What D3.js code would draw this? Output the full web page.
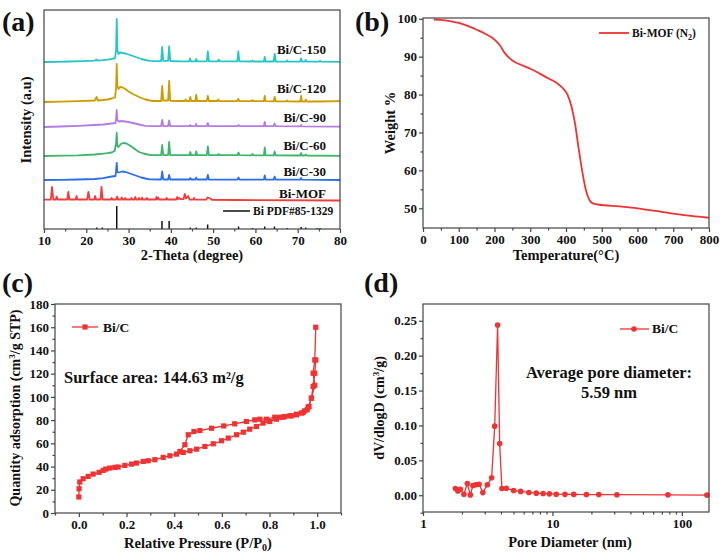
<!DOCTYPE html>
<html lang="en">
<head>
<meta charset="utf-8">
<title>Bi/C characterisation</title>
<script src="https://d3js.org/d3.v7.min.js"></script>
<style>
body { margin: 0; background: #fff; }
svg text { font-family: "Liberation Serif", "Times New Roman", serif; font-weight: bold; fill: #111; }
.frame { fill: none; stroke: #444; stroke-width: 1.2; }
.axis path { display: none; }
.axis line { stroke: #444; stroke-width: 1.2; }
.axis text { font-size: 13px; font-family: "Liberation Serif", serif; font-weight: bold; fill: #111; }
</style>
</head>
<body>
<script>
// ---------- (a) XRD patterns, intensity above each pattern's own baseline ----------
var xrdNames = ["Bi/C-150", "Bi/C-120", "Bi/C-90", "Bi/C-60", "Bi/C-30", "Bi-MOF"];
var xrdOffsets = [167, 127, 102, 73, 49, 29];

var xrd150 = [[10,0],[13,0.2],[16,0.5],[19,0.8],[22,1.3],[22.4,2.5],[22.6,1.3],[24,1.8],[25,2.3],[26,3],[26.8,3.8],[27.05,12],[27.2,43],[27.35,12],[27.6,8],[28,9.5],[28.6,9],[29.3,8.5],[30,7.5],[31,6],[32,4.5],[33,3],[34,2],[35,1.2],[36,0.8],[37.7,0.8],[37.95,15],[38.2,1.2],[39.35,1.2],[39.6,15.5],[39.85,1],[42,0.7],[44.35,0.6],[44.55,3.5],[44.75,0.6],[45.8,0.6],[46,3],[46.2,0.6],[48.5,0.6],[48.75,10.5],[49,0.6],[51.1,0.6],[51.3,2.5],[51.5,0.6],[55.7,0.6],[55.95,10.5],[56.2,0.6],[59.1,0.5],[59.3,1.5],[59.5,0.5],[62,0.5],[62.2,5],[62.4,0.5],[64.3,0.5],[64.55,8],[64.8,0.5],[67.3,0.4],[67.5,1.5],[67.7,0.4],[70.6,0.4],[70.8,3.5],[71,0.4],[71.7,0.4],[71.9,2],[72.1,0.4],[75.1,0.3],[75.3,1.2],[75.5,0.3],[80,0.2]];
var xrd120 = [[10,0],[14,0.3],[18,0.8],[22,1.5],[22.45,5],[22.7,1.5],[24,2],[25,2.5],[26,3.5],[26.8,4.5],[27.05,14],[27.2,38],[27.35,16],[27.6,13],[28,15],[28.6,14.5],[29.2,13],[30,10.5],[31,8],[32,6],[33,4],[34,2.5],[35,1.5],[36,1],[37.7,1],[37.95,16],[38.2,1.5],[39.35,1.5],[39.6,21],[39.85,1.2],[42,1],[43.3,1],[43.5,2.5],[43.7,1],[44.4,1],[44.6,5],[44.8,1],[45.8,1],[46,7],[46.2,1],[48.5,1],[48.75,6],[49,1],[51,1],[51.2,2.5],[51.4,1],[55.7,0.8],[55.95,3],[56.2,0.8],[59.1,0.8],[59.3,1.8],[59.5,0.8],[62,0.8],[62.2,6],[62.4,0.8],[64.3,0.6],[64.55,5],[64.8,0.6],[67.3,0.6],[67.5,1.5],[67.7,0.6],[70.6,0.5],[70.8,6],[71,0.5],[71.7,0.5],[71.9,2.5],[72.1,0.5],[75,0.5],[80,0.8]];
var xrd90 = [[10,0],[14,0.5],[18,1.2],[22,2],[24,2.5],[26,3.5],[26.9,4],[27.05,8],[27.2,17],[27.35,7],[27.7,5.5],[28.4,6],[29.2,5.5],[30,5],[31,4],[32,3],[33,2],[34,1.2],[35,0.8],[37.7,0.8],[37.95,7],[38.2,0.8],[39.35,0.8],[39.6,6.5],[39.85,0.8],[44.4,0.8],[44.6,2],[44.8,0.8],[45.8,0.8],[46,3],[46.2,0.8],[48.5,0.8],[48.75,4],[49,0.8],[55.75,0.8],[56,2],[56.25,0.8],[62,0.8],[62.2,5],[62.4,0.8],[64.3,0.8],[64.55,3.5],[64.8,0.8],[70.6,0.6],[70.8,2],[71,0.6],[80,0.3]];
var xrd60 = [[10,0],[14,0.3],[18,0.7],[22,1.5],[24,2.3],[25,2.8],[26,3.5],[26.7,5],[27.05,13],[27.2,23],[27.35,10],[27.6,9],[28.2,12],[28.8,13],[29.5,12.5],[30.3,10.5],[31,8.5],[31.8,6],[32.5,4],[33.5,2.5],[34.5,1.5],[35.5,0.8],[37.7,0.8],[37.95,11],[38.2,0.8],[39.35,0.8],[39.6,14],[39.85,0.8],[42,0.8],[44.4,0.8],[44.6,4],[44.8,0.8],[45.8,0.8],[46,4.5],[46.2,0.8],[48.5,0.8],[48.75,9.5],[49,0.8],[51.1,0.8],[51.3,2],[51.5,0.8],[55.75,0.8],[56,3.5],[56.25,0.8],[59.1,0.6],[59.3,2],[59.5,0.6],[62,0.6],[62.2,8.5],[62.4,0.6],[64.3,0.6],[64.55,4.5],[64.8,0.6],[70.6,0.5],[70.8,3],[71,0.5],[71.7,0.5],[71.9,1.5],[72.1,0.5],[80,0.2]];
var xrd30 = [[10,0],[14,0.2],[18,0.5],[22,1],[24,1.8],[26,3.5],[26.9,4],[27.05,9],[27.2,17],[27.35,8],[27.7,7.5],[28.5,8.5],[29.3,8],[30,7],[31,5.5],[32,4],[33,2.5],[34,1.5],[35,0.7],[37.7,0.5],[37.95,8.5],[38.2,0.5],[39.35,0.5],[39.6,5],[39.85,0.5],[44.4,0.5],[44.6,2],[44.8,0.5],[45.8,0.5],[46,2.5],[46.2,0.5],[48.5,0.5],[48.75,5],[49,0.5],[55.75,0.4],[56,2.5],[56.25,0.4],[62,0.4],[62.2,4.5],[62.4,0.4],[64.3,0.4],[64.55,3.5],[64.8,0.4],[70.6,0.3],[70.8,2],[71,0.3],[80,0]];
var xrdMof = [[10,0.3],[11.6,0.3],[11.9,13],[12.2,0.5],[12.8,0.5],[13,3.5],[13.2,0.5],[15.5,0.5],[15.75,8],[16,0.5],[17.5,0.5],[17.7,4],[17.9,0.5],[20.2,0.5],[20.5,8],[20.8,0.5],[21.9,0.5],[22.1,4],[22.3,0.5],[23.35,0.5],[23.6,13],[23.85,0.5],[25.8,0.5],[26,2],[26.2,0.5],[27.1,0.5],[27.3,3.5],[27.5,0.5],[28.2,0.5],[28.4,2.5],[28.6,0.5],[29,0.5],[29.2,2],[29.4,0.5],[30.5,0.5],[30.7,2],[30.9,0.5],[31.4,0.5],[31.6,3],[31.8,0.5],[32.3,0.5],[32.5,2],[32.7,0.5],[33,0.5],[33.2,2.5],[33.4,0.5],[34.1,0.5],[34.3,2],[34.5,0.5],[36.4,0.5],[36.6,3],[36.8,0.5],[37,2.5],[37.2,0.5],[38.8,0.5],[39,2],[39.2,0.5],[41.3,0.5],[41.5,3],[41.7,0.8],[42,2],[42.3,0.8],[43,1],[43.3,6],[43.6,1.5],[44.1,4],[44.4,0.5],[45.3,0.3],[45.5,2],[45.7,0.3],[48.3,0.3],[48.7,2.5],[49.3,1.5],[49.7,0.2],[55,0],[80,-0.5]];

var refPos = [22.5, 23.8, 27.2, 37.9, 39.6, 44.6, 46.0, 48.7, 56.0, 59.3, 62.2, 64.5, 67.5, 70.8, 71.9, 74.6, 75.3];
var refInt = [1.5, 1.5, 23, 8, 8, 1.5, 1.5, 4.5, 2.5, 1, 2.5, 2.5, 1, 2, 1.5, 1, 1];

var aTicks = [10, 20, 30, 40, 50, 60, 70, 80];
var aMinor = [15, 25, 35, 45, 55, 65, 75];

// ---------- (b) TGA ----------
var tgaTemp = [30, 50, 75, 100, 125, 150, 175, 200, 215, 230, 250, 275, 300, 325, 350, 375, 390, 405, 415, 425, 435, 445, 455, 465, 475, 490, 550, 600, 650, 700, 750, 800];
var tgaWeight = [99.8, 99.7, 99.4, 98.9, 98.1, 97.1, 96.0, 94.5, 93.0, 90.8, 89.0, 87.8, 86.8, 85.6, 84.3, 83.0, 81.8, 79.8, 77.0, 72.5, 66.0, 60.0, 55.0, 52.3, 51.3, 51.0, 50.5, 50.0, 49.3, 48.6, 48.0, 47.5];
var bTicksX = [0, 100, 200, 300, 400, 500, 600, 700, 800];
var bMinorX = [50, 150, 250, 350, 450, 550, 650, 750];
var bTicksY = [50, 60, 70, 80, 90, 100];
var bMinorY = [55, 65, 75, 85, 95];

// ---------- (c) N2 isotherm ----------
var adsP = [0.000, 0.001, 0.004, 0.018, 0.039, 0.06, 0.085, 0.102, 0.113, 0.13, 0.151, 0.165, 0.193, 0.221, 0.242, 0.27, 0.291, 0.319, 0.354, 0.382, 0.41, 0.438, 0.466, 0.494, 0.529, 0.564, 0.599, 0.627, 0.662, 0.69, 0.717, 0.745, 0.773, 0.801, 0.829, 0.857, 0.885, 0.913, 0.941, 0.958, 0.966, 0.976, 0.983, 0.99, 0.994];
var adsQ = [13.8, 20.9, 26.7, 29.5, 31.5, 33.5, 35.0, 36.7, 37.8, 38.7, 39.3, 39.6, 41.0, 42.1, 43.0, 44.4, 45.0, 45.9, 47.9, 49.3, 50.7, 52.2, 53.6, 55.0, 57.3, 59.6, 62.2, 64.5, 67.4, 69.6, 72.2, 74.5, 77.4, 78.8, 80.8, 82.5, 83.7, 85.1, 86.6, 88.9, 91.7, 98.9, 108.9, 120.4, 131.8];
var desP = [0.994, 0.99, 0.983, 0.99, 0.976, 0.962, 0.948, 0.934, 0.913, 0.892, 0.864, 0.843, 0.822, 0.787, 0.759, 0.738, 0.703, 0.654, 0.608, 0.557, 0.508, 0.483, 0.459, 0.445, 0.424];
var desQ = [160.0, 131.8, 120.4, 110.0, 98.9, 91.1, 88.0, 86.0, 84.5, 83.7, 83.1, 82.5, 82.5, 80.8, 80.8, 80.2, 78.8, 76.8, 75.0, 73.0, 71.0, 70.2, 67.4, 58.8, 53.0];
var cTicksX = [0, 0.2, 0.4, 0.6, 0.8, 1.0];
var cMinorX = [-0.1, 0.1, 0.3, 0.5, 0.7, 0.9, 1.1];
var cTicksY = [0, 20, 40, 60, 80, 100, 120, 140, 160, 180];
var cMinorY = [10, 30, 50, 70, 90, 110, 130, 150, 170];

// ---------- (d) pore size distribution ----------
var poreD = [1.78, 1.86, 1.94, 2.07, 2.20, 2.32, 2.43, 2.55, 2.71, 2.90, 3.14, 3.39, 3.58, 3.77, 3.91, 4.07, 4.40, 5.01, 5.68, 6.58, 7.5, 8.47, 9.48, 10.7, 12.5, 14.6, 18.3, 22.8, 31.5, 78, 156];
var poreV = [0.0095, 0.006, 0.0086, 0.0014, 0.0167, 0.0005, 0.014, 0.015, 0.0157, 0.0038, 0.015, 0.025, 0.099, 0.244, 0.074, 0.0095, 0.010, 0.0068, 0.0055, 0.004, 0.003, 0.0025, 0.002, 0.0015, 0.0013, 0.0012, 0.001, 0.001, 0.0008, 0.0006, 0.0002];
var dTicksX = [1, 10, 100];
var dMinorX = [2, 3, 4, 5, 6, 7, 8, 9, 20, 30, 40, 50, 60, 70, 80, 90];
var dTicksY = [0, 0.05, 0.10, 0.15, 0.20, 0.25];
var dMinorY = [-0.025, 0.025, 0.075, 0.125, 0.175, 0.225];

var red = "#f03232";

var svg = d3.select("body").append("svg")
    .attr("width", 724)
    .attr("height", 560);

function frame(x0, y0, x1, y1) {
    svg.append("rect").attr("class", "frame")
        .attr("x", x0).attr("y", y0)
        .attr("width", x1 - x0).attr("height", y1 - y0);
}

function xAxis(scale, y, ticks, minor, fmt) {
    svg.append("g").attr("class", "axis").attr("transform", "translate(0," + y + ")")
        .call(d3.axisBottom(scale).tickValues(ticks).tickFormat(fmt).tickSize(4).tickPadding(3).tickSizeOuter(0));
    svg.append("g").attr("class", "axis").attr("transform", "translate(0," + y + ")")
        .call(d3.axisBottom(scale).tickValues(minor).tickFormat("").tickSize(2.5).tickSizeOuter(0));
}

function yAxis(scale, x, ticks, minor, fmt) {
    svg.append("g").attr("class", "axis").attr("transform", "translate(" + x + ",0)")
        .call(d3.axisLeft(scale).tickValues(ticks).tickFormat(fmt).tickSize(4).tickPadding(2).tickSizeOuter(0));
    svg.append("g").attr("class", "axis").attr("transform", "translate(" + x + ",0)")
        .call(d3.axisLeft(scale).tickValues(minor).tickFormat("").tickSize(2.5).tickSizeOuter(0));
}

function label(txt, x, y, size, anchor, rot) {
    var t = svg.append("text").attr("font-size", size).attr("text-anchor", anchor || "start");
    if (rot) t.attr("transform", "translate(" + x + "," + y + ") rotate(-90)");
    else t.attr("x", x).attr("y", y);
    t.text(txt);
    return t;
}

// panel letters
label("(a)", 2, 31, 28);
label("(b)", 355, 31, 28);
label("(c)", 2, 292, 28);
label("(d)", 364, 292, 28);

// ================= (a) =================
var xa = d3.scaleLinear().domain([10, 80]).range([44, 340]);
var ya = d3.scaleLinear().domain([0, 219]).range([229, 10]);
var xrdSeries = [xrd150, xrd120, xrd90, xrd60, xrd30, xrdMof];
var xrdColors = ["#25c6c6", "#cc9c00", "#b37be3", "#3db56b", "#2f6fe6", "#f03c3c"];

xrdSeries.forEach(function(s, i) {
    var line = d3.line()
        .x(function(d) { return xa(d[0]); })
        .y(function(d) { return ya(d[1] + xrdOffsets[i]); });
    svg.append("path").datum(s)
        .attr("d", line)
        .attr("fill", "none")
        .attr("stroke", xrdColors[i])
        .attr("stroke-width", 1.8)
        .attr("stroke-linejoin", "round");
});

svg.selectAll(".refbar").data(refPos).enter().append("line")
    .attr("class", "refbar")
    .attr("x1", function(d) { return xa(d); })
    .attr("x2", function(d) { return xa(d); })
    .attr("y1", ya(0))
    .attr("y2", function(d, i) { return ya(refInt[i]); })
    .attr("stroke", "#111")
    .attr("stroke-width", 1.5);

var nameY = [54, 93, 122, 150, 176, 198];
xrdNames.forEach(function(n, i) {
    label(n, 326, nameY[i], 13, "end");
});
svg.append("line").attr("x1", 223).attr("x2", 250).attr("y1", 211).attr("y2", 211)
    .attr("stroke", "#111").attr("stroke-width", 1.5);
label("Bi PDF#85-1329", 253, 215, 11.5);

frame(44, 10, 340, 229);
xAxis(xa, 229, aTicks, aMinor, d3.format("d"));
label("2-Theta (degree)", 192, 260, 14.5, "middle");
label("Intensity (a.u)", 31, 120, 14.5, "middle", true);

// ================= (b) =================
var xb = d3.scaleLinear().domain([0, 800]).range([423, 709]);
var yb = d3.scaleLinear().domain([44.8, 100.2]).range([228, 18]);
var tga = tgaTemp.map(function(t, i) { return [t, tgaWeight[i]]; });
svg.append("path").datum(tga)
    .attr("d", d3.line().curve(d3.curveMonotoneX)
        .x(function(d) { return xb(d[0]); })
        .y(function(d) { return yb(d[1]); }))
    .attr("fill", "none").attr("stroke", red).attr("stroke-width", 1.8);

frame(423, 18, 709, 228);
xAxis(xb, 228, bTicksX, bMinorX, d3.format("d"));
yAxis(yb, 423, bTicksY, bMinorY, d3.format("d"));
label("Temperature(\u00b0C)", 566, 260, 14.5, "middle");
label("Weight %", 395, 123, 14.5, "middle", true);

svg.append("line").attr("x1", 599).attr("x2", 629).attr("y1", 33).attr("y2", 33)
    .attr("stroke", red).attr("stroke-width", 1.8);
var lb = label("Bi-MOF (N", 632, 37, 11.5);
lb.append("tspan").attr("dy", 3).attr("font-size", 8).text("2");
lb.append("tspan").attr("dy", -3).text(")");

// ================= (c) =================
var xc = d3.scaleLinear().domain([-0.1, 1.1]).range([55, 341]);
var yc = d3.scaleLinear().domain([0, 180]).range([513, 304]);
var ads = adsP.map(function(p, i) { return [p, adsQ[i]]; });
var des = desP.map(function(p, i) { return [p, desQ[i]]; });
var lineC = d3.line().x(function(d) { return xc(d[0]); }).y(function(d) { return yc(d[1]); });
[ads, des].forEach(function(s) {
    svg.append("path").datum(s).attr("d", lineC)
        .attr("fill", "none").attr("stroke", red).attr("stroke-width", 1.3);
    svg.append("g").selectAll("rect").data(s).enter().append("rect")
        .attr("x", function(d) { return xc(d[0]) - 2.6; })
        .attr("y", function(d) { return yc(d[1]) - 2.6; })
        .attr("width", 5.2).attr("height", 5.2)
        .attr("fill", red);
});

frame(55, 304, 341, 513);
xAxis(xc, 513, cTicksX, cMinorX, d3.format(".1f"));
yAxis(yc, 55, cTicksY, cMinorY, d3.format("d"));
var xlc = label("Relative Pressure (P/P", 198, 548, 14.5, "middle");
xlc.append("tspan").attr("dy", 3).attr("font-size", 10).text("0");
xlc.append("tspan").attr("dy", -3).text(")");
var ylc = label("Quantity adsorption (cm", 20, 408, 14, "middle", true);
ylc.append("tspan").attr("dy", -5).attr("font-size", 9).text("3");
ylc.append("tspan").attr("dy", 5).text("/g STP)");

svg.append("line").attr("x1", 72).attr("x2", 98).attr("y1", 327).attr("y2", 327)
    .attr("stroke", red).attr("stroke-width", 1.3);
svg.append("rect").attr("x", 85 - 2.6).attr("y", 327 - 2.6).attr("width", 5.2).attr("height", 5.2).attr("fill", red);
label("Bi/C", 103, 332, 13.5);
label("Surface area: 144.63 m\u00b2/g", 64, 383, 16.5);

// ================= (d) =================
var xd = d3.scaleLog().domain([1, 162]).range([423, 709]);
var yd = d3.scaleLinear().domain([-0.024, 0.274]).range([512, 304]);
var psd = poreD.map(function(p, i) { return [p, poreV[i]]; });
svg.append("path").datum(psd)
    .attr("d", d3.line().x(function(d) { return xd(d[0]); }).y(function(d) { return yd(d[1]); }))
    .attr("fill", "none").attr("stroke", red).attr("stroke-width", 1.3);
svg.append("g").selectAll("circle").data(psd).enter().append("circle")
    .attr("cx", function(d) { return xd(d[0]); })
    .attr("cy", function(d) { return yd(d[1]); })
    .attr("r", 2.8).attr("fill", red);

frame(423, 304, 709, 512);
xAxis(xd, 512, dTicksX, dMinorX, d3.format("d"));
yAxis(yd, 423, dTicksY, dMinorY, d3.format(".2f"));
label("Pore Diameter (nm)", 570, 547, 14.5, "middle");
var yld = label("dV/dlogD (cm", 384, 408, 14, "middle", true);
yld.append("tspan").attr("dy", -5).attr("font-size", 9).text("3");
yld.append("tspan").attr("dy", 5).text("/g)");

svg.append("line").attr("x1", 620).attr("x2", 649).attr("y1", 329).attr("y2", 329)
    .attr("stroke", red).attr("stroke-width", 1.3);
svg.append("circle").attr("cx", 634).attr("cy", 329).attr("r", 2.8).attr("fill", red);
label("Bi/C", 652, 333, 13.5);
label("Average pore diameter:", 609, 378, 16.5, "middle");
label("5.59 nm", 609, 398, 16.5, "middle");
</script>
</body>
</html>
